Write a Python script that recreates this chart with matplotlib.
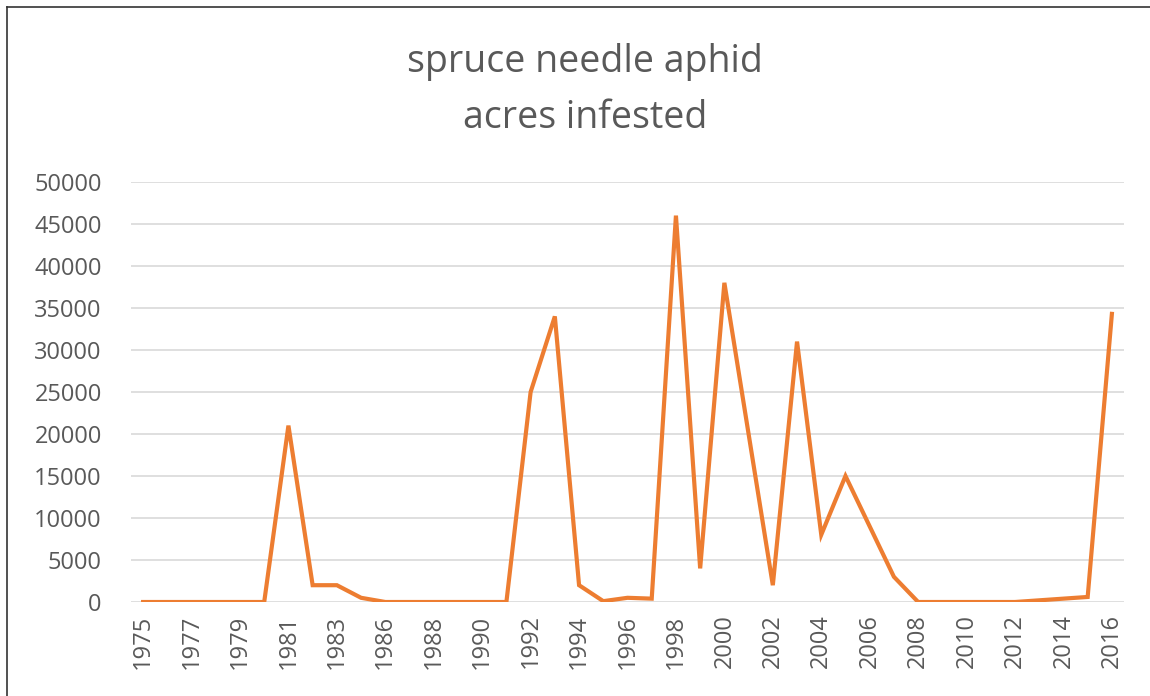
import numpy as np
import matplotlib
matplotlib.use("Agg")
import matplotlib.pyplot as plt
from matplotlib.lines import Line2D

plt.rcParams['font.family'] = ['Open Sans', 'DejaVu Sans']

# categories (one year missing between 1983 and 1986 in the source sheet)
years = [1975, 1976, 1977, 1978, 1979, 1980, 1981, 1982, 1983, 1985,
         1986, 1987, 1988, 1989, 1990, 1991, 1992, 1993, 1994, 1995,
         1996, 1997, 1998, 1999, 2000, 2001, 2002, 2003, 2004, 2005,
         2006, 2007, 2008, 2009, 2010, 2011, 2012, 2013, 2014, 2015, 2016]
acres = [0, 0, 0, 0, 0, 0, 21000, 2000, 2000, 500,
         0, 0, 0, 0, 0, 0, 25000, 34000, 2000, 100,
         500, 400, 46000, 4000, 38000, 20000, 2000, 31000, 8000, 15000,
         9000, 3000, 0, 0, 0, 0, 0, 200, 400, 600, 34300]
yticks = [0, 5000, 10000, 15000, 20000, 25000, 30000, 35000, 40000, 45000, 50000]

W, H = 1150, 696
fig = plt.figure(figsize=(W / 100, H / 100), dpi=100)
ax = fig.add_axes([131 / W, 1 - 602 / H, (1124 - 131) / W, (602 - 182) / H])

x = np.arange(len(years))
ax.plot(x, acres, color='#ED7D31', lw=3, solid_joinstyle='miter', zorder=3)

ax.set_xlim(-0.5, len(years) - 0.5)
ax.set_ylim(0, 50000)
ax.set_yticks(yticks)
ax.set_yticklabels([str(v) for v in yticks])
ax.set_xticks(x[::2])
ax.set_xticklabels([str(y) for y in years[::2]], rotation=90)

ax.grid(axis='y', color='#d9d9d9', lw=1.2)
ax.set_axisbelow(True)
for s in ax.spines.values():
    s.set_visible(False)
ax.tick_params(axis='both', length=0, colors='#595959', labelsize=17)
ax.tick_params(axis='y', pad=21)
ax.tick_params(axis='x', pad=9)

fig.text(585 / W, 1 - 62 / H, 'spruce needle aphid', ha='center', va='center',
         fontsize=27, color='#595959')
fig.text(585 / W, 1 - 118 / H, 'acres infested', ha='center', va='center',
         fontsize=27, color='#595959')

# outer frame (top and left edges visible)
fig.add_artist(Line2D([7 / W, 7 / W], [0, 1 - 7 / H], color='#333333', lw=1.2,
                      transform=fig.transFigure))
fig.add_artist(Line2D([7 / W, 1], [1 - 7 / H, 1 - 7 / H], color='#333333', lw=1.2,
                      transform=fig.transFigure))

fig.savefig('out.png', dpi=100)
